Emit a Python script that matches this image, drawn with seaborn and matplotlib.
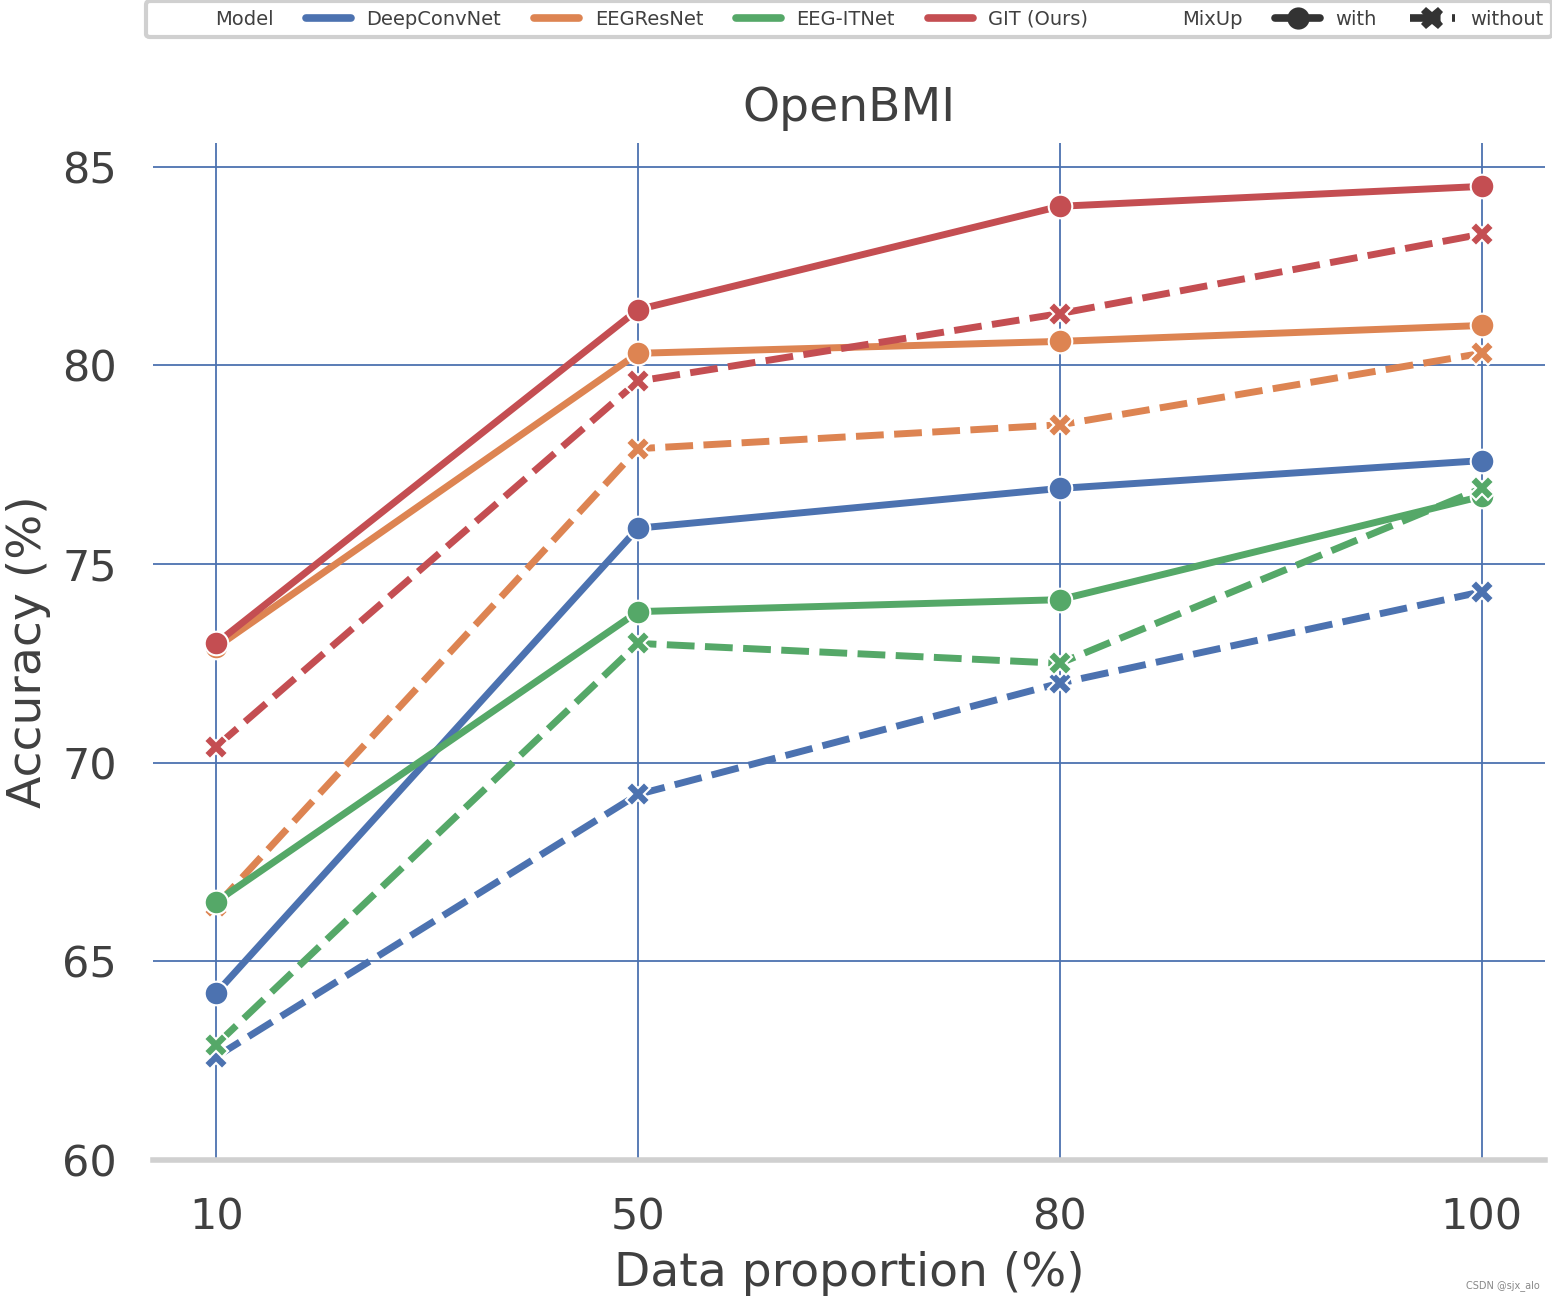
import matplotlib
matplotlib.use("Agg")
import matplotlib.pyplot as plt
import seaborn as sns
import pandas as pd

proportions = ["10", "50", "80", "100"]
models = ["DeepConvNet", "EEGResNet", "EEG-ITNet", "GIT (Ours)"]
deepconv_with = [64.2, 75.9, 76.9, 77.6]
deepconv_without = [62.6, 69.2, 72.0, 74.3]
eegresnet_with = [72.9, 80.3, 80.6, 81.0]
eegresnet_without = [66.4, 77.9, 78.5, 80.3]
eegitnet_with = [66.5, 73.8, 74.1, 76.7]
eegitnet_without = [62.9, 73.0, 72.5, 76.9]
git_with = [73.0, 81.4, 84.0, 84.5]
git_without = [70.4, 79.6, 81.3, 83.3]

series = {
    ("DeepConvNet", "with"): deepconv_with,
    ("DeepConvNet", "without"): deepconv_without,
    ("EEGResNet", "with"): eegresnet_with,
    ("EEGResNet", "without"): eegresnet_without,
    ("EEG-ITNet", "with"): eegitnet_with,
    ("EEG-ITNet", "without"): eegitnet_without,
    ("GIT (Ours)", "with"): git_with,
    ("GIT (Ours)", "without"): git_without,
}
rows = []
for (m, mix), vals in series.items():
    for p, v in zip(proportions, vals):
        rows.append({"Data proportion (%)": p, "Accuracy (%)": v, "Model": m, "MixUp": mix})
df = pd.DataFrame(rows)

sns.set_theme(style="whitegrid")
plt.rcParams.update({
    "grid.color": "#4c72b0",
    "grid.linewidth": 1.3,
    "text.color": "#404040",
    "axes.labelcolor": "#404040",
    "xtick.color": "#404040",
    "ytick.color": "#404040",
    "lines.solid_capstyle": "round",
})

fig = plt.figure(figsize=(15.52, 12.99), dpi=100)
ax = fig.add_axes([0.0985, 0.107, 0.897, 0.783])

sns.lineplot(data=df, x="Data proportion (%)", y="Accuracy (%)", hue="Model", style="MixUp",
             hue_order=models, style_order=["with", "without"],
             markers=["o", "X"], dashes=True, linewidth=5, markersize=17,
             markeredgecolor="white", markeredgewidth=1.5, ax=ax, sort=False)

ax.set_ylim(60, None)
ax.set_yticks([60, 65, 70, 75, 80, 85])
ax.tick_params(axis="both", labelsize=31, length=0, pad=26)
ax.set_xlabel("Data proportion (%)", fontsize=34, labelpad=9)
ax.set_ylabel("Accuracy (%)", fontsize=34, labelpad=8)
ax.set_title("OpenBMI", fontsize=34, pad=16)

for s in ["left", "top", "right"]:
    ax.spines[s].set_visible(False)
ax.spines["bottom"].set_color("#d0d0d0")
ax.spines["bottom"].set_linewidth(4)

handles, labels = ax.get_legend_handles_labels()
for h, lab in zip(handles, labels):
    try:
        h.set_linewidth(5.5)
        h.set_solid_capstyle("round")
        if lab in ("with", "without"):
            h.set_markersize(16)
            h.set_markeredgewidth(0)
    except Exception:
        pass
ax_center = 0.0985 + 0.897 / 2
ax.legend(handles, labels, loc="upper center", bbox_to_anchor=(ax_center, 1.0),
          bbox_transform=fig.transFigure, borderaxespad=0.05, ncol=len(labels), fontsize=14,
          frameon=True, edgecolor="#d0d0d0", framealpha=1, borderpad=0.45,
          columnspacing=1.7, handlelength=2.3)
ax.get_legend().get_frame().set_linewidth(3)

fig.text(0.992, 0.006, "CSDN @sjx_alo", fontsize=7, ha="right", va="bottom", color="#888888")

fig.savefig("out.png", dpi=100)
